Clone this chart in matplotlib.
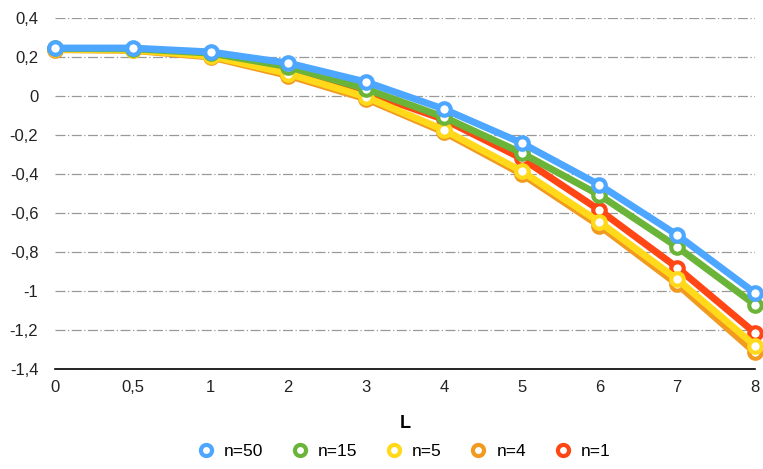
import matplotlib.pyplot as plt
from matplotlib.lines import Line2D
import numpy as np

plt.rcParams['font.family'] = ['Liberation Sans Narrow', 'Liberation Sans', 'DejaVu Sans']

L_labels = ['0', '0,5', '1', '2', '3', '4', '5', '6', '7', '8']
y_labels = ['-1,4', '-1,2', '-1', '-0,8', '-0,6', '-0,4', '-0,2', '0', '0,2', '0,4']

n50 = [0.246, 0.246, 0.226, 0.169, 0.072, -0.067, -0.241, -0.456, -0.713, -1.01]
n15 = [0.244, 0.242, 0.220, 0.150, 0.036, -0.108, -0.292, -0.508, -0.774, -1.07]
n5 = [0.240, 0.236, 0.205, 0.115, -0.005, -0.174, -0.385, -0.646, -0.940, -1.28]
n4 = [0.238, 0.234, 0.200, 0.105, -0.015, -0.185, -0.400, -0.665, -0.965, -1.315]
n1 = [0.242, 0.240, 0.212, 0.135, 0.020, -0.120, -0.320, -0.585, -0.880, -1.215]

series = [
    ('n=50', n50, '#4da6ff', 6),
    ('n=15', n15, '#6ab539', 5),
    ('n=5', n5, '#ffd91a', 4),
    ('n=4', n4, '#f29a1f', 2),
    ('n=1', n1, '#ff4614', 3),
]

fig = plt.figure(figsize=(7.63, 4.69), dpi=100)
ax = fig.add_axes([0.072, 0.2132, 0.9175, 0.7484])

x = np.arange(len(L_labels))
for name, vals, col, z in series:
    ax.plot(x, vals, color=col, lw=5, marker='o', ms=9, mfc='white',
            mec=col, mew=3, zorder=z, clip_on=False)

ax.set_xlim(0, len(L_labels) - 1)
ax.set_ylim(-1.4, 0.4)
ax.set_xticks(x)
ax.set_xticklabels(L_labels)
ax.set_yticks(np.linspace(-1.4, 0.4, len(y_labels)))
ax.set_yticklabels(y_labels)
ax.tick_params(length=0, labelsize=12, colors='#222222', pad=8)
ax.tick_params(axis='y', pad=12)

ax.grid(axis='y', color='#999999', lw=0.9, ls=(0, (8, 2, 1, 2)))
ax.set_axisbelow(True)
for s in ['top', 'right', 'left']:
    ax.spines[s].set_visible(False)
ax.spines['bottom'].set_color('black')
ax.spines['bottom'].set_linewidth(1.2)

ax.set_xlabel('L', fontsize=13, fontweight='bold', labelpad=14)

handles = [Line2D([], [], ls='none', marker='o', ms=8, mfc='white', mec=col, mew=3)
           for name, vals, col, z in series]
fig.legend(handles, [s[0] for s in series], loc='lower center', ncol=5,
           frameon=False, fontsize=12.5, handletextpad=0.45, handlelength=1.2,
           columnspacing=1.5, bbox_to_anchor=(0.528, -0.012))

fig.savefig('out.png', dpi=100)
